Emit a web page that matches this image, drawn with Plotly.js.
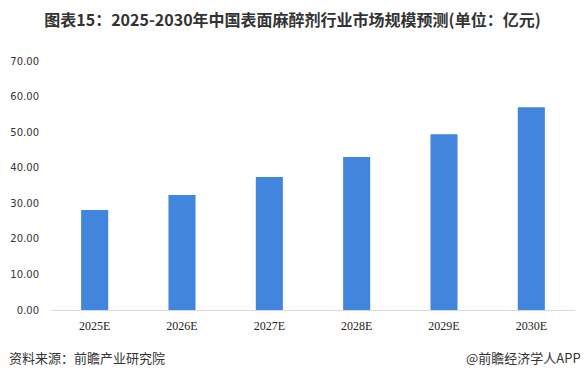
<!DOCTYPE html>
<html><head><meta charset="utf-8">
<script src="https://cdn.plot.ly/plotly-3.0.1.min.js"></script>
<style>body{margin:0;background:#fff}#c{width:585px;height:378px}</style>
</head><body><div id="c"></div>
<script>
const categories = ["2025E","2026E","2027E","2028E","2029E","2030E"];
const values = [28.1, 32.3, 37.4, 43.0, 49.4, 57.0];
const yTicks = [0,10,20,30,40,50,60,70];
const yTickLabels = yTicks.map(v => v.toFixed(2));

const trace = {
  type: "bar", x: categories, y: values,
  marker: {color: "#4285DC"},
  hoverinfo: "none"
};
const layout = {
  width: 585, height: 378,
  margin: {l: 51, r: 10, t: 61, b: 68},
  paper_bgcolor: "#fff", plot_bgcolor: "#fff",
  bargap: 0.69,
  showlegend: false,
  title: {text: "<b>图表15：2025-2030年中国表面麻醉剂行业市场规模预测(单位：亿元)</b>",
    font: {family: "Noto Sans CJK SC, sans-serif", size: 16, color: "#333"},
    x: 0.5, xanchor: "center", y: 0.947, yanchor: "middle"},
  xaxis: {type: "category", showgrid: false, zeroline: false,
    showline: true, linecolor: "#D9D9D9", linewidth: 1, ticks: "",
    ticklabelstandoff: 5,
    tickfont: {family: "Liberation Serif, serif", size: 12, color: "#222"}},
  yaxis: {range: [0, 70], tickvals: yTicks, ticktext: yTickLabels,
    showgrid: false, zeroline: false, showline: false, ticks: "",
    ticklabelstandoff: 11,
    tickfont: {family: "DejaVu Sans, sans-serif", size: 10, color: "#333"}},
  annotations: [
    {text: "资料来源：前瞻产业研究院", xref: "paper", yref: "paper", x: -0.084, xanchor: "left",
     y: -0.189, yanchor: "middle", showarrow: false,
     font: {family: "Noto Sans CJK SC, sans-serif", size: 13, color: "#333"}},
    {text: "@前瞻经济学人APP", xref: "paper", yref: "paper", x: 1.015, xanchor: "right",
     y: -0.189, yanchor: "middle", showarrow: false,
     font: {family: "Noto Sans CJK SC, sans-serif", size: 13, color: "#333"}}
  ]
};
Plotly.newPlot("c", [trace], layout, {staticPlot: true, displayModeBar: false});
</script></body></html>
